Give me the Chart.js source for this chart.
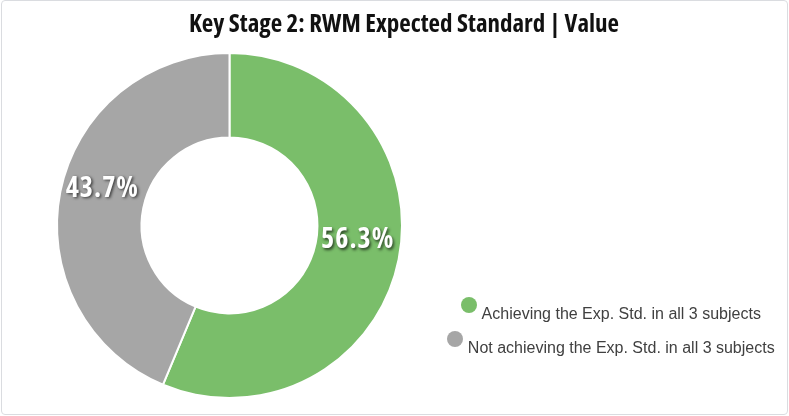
<!DOCTYPE html>
<html><head><meta charset="utf-8">
<script src="https://cdn.jsdelivr.net/npm/chart.js@4/dist/chart.umd.min.js"></script>
<style>
html,body{margin:0;padding:0;background:#fff;}
#wrap{position:relative;width:789px;height:416px;overflow:hidden;}
#c{position:absolute;left:0;top:0;}
#frame{position:absolute;left:1px;top:0;width:787px;height:415px;box-sizing:border-box;border:1px solid #dadce0;border-radius:4px;pointer-events:none;}
#legend{position:absolute;left:411px;top:297px;width:400px;font-family:'Liberation Sans',Arial,sans-serif;font-size:16px;color:#404040;}
.item{display:flex;justify-content:center;align-items:flex-start;height:34px;}
.dot{width:16px;height:16px;border-radius:50%;flex:none;margin-right:4.5px;}
.txt{line-height:16px;margin-top:9px;white-space:nowrap;}
</style></head>
<body><div id="wrap"><canvas id="c" width="789" height="416"></canvas><div id="legend"></div><div id="frame"></div></div>
<script>
const titleText = "Key Stage 2: RWM Expected Standard | Value";
const categories = ["Achieving the Exp. Std. in all 3 subjects", "Not achieving the Exp. Std. in all 3 subjects"];
const values = [56.3, 43.7];
const colors = ["#7abe6a", "#a6a6a6"];

const legendEl = document.getElementById('legend');
categories.forEach((c, i) => {
  const it = document.createElement('div'); it.className = 'item';
  const d = document.createElement('span'); d.className = 'dot'; d.style.background = colors[i];
  const t = document.createElement('span'); t.className = 'txt'; t.textContent = c;
  it.appendChild(d); it.appendChild(t); legendEl.appendChild(it);
});

const titlePlugin = {
  id: 'customTitle',
  afterDraw(chart) {
    const ctx = chart.ctx;
    ctx.save();
    ctx.font = "bold 25px 'Open Sans'";
    try { ctx.fontStretch = 'condensed'; } catch (e) {}
    ctx.fillStyle = '#111111';
    ctx.textAlign = 'center';
    ctx.textBaseline = 'alphabetic';
    ctx.fillText(titleText, 404, 32);
    ctx.restore();
  }
};

const labelPlugin = {
  id: 'sliceLabels',
  afterDatasetsDraw(chart) {
    const ctx = chart.ctx;
    const meta = chart.getDatasetMeta(0);
    const data = chart.data.datasets[0].data;
    ctx.save();
    ctx.font = "bold 28px 'Open Sans'";
    try { ctx.fontStretch = 'semi-condensed'; } catch (e) {}
    try { ctx.letterSpacing = '1px'; } catch (e) {}
    ctx.textAlign = 'center';
    ctx.textBaseline = 'alphabetic';
    ctx.fillStyle = '#ffffff';
    ctx.shadowColor = 'rgba(0,0,0,0.65)';
    ctx.shadowBlur = 3;
    ctx.shadowOffsetX = 1.5;
    ctx.shadowOffsetY = 1.5;
    meta.data.forEach((arc, i) => {
      const p = arc.tooltipPosition();
      ctx.fillText(data[i].toFixed(1) + '%', p.x + 0.5, p.y - 3);
    });
    ctx.restore();
  }
};

new Chart(document.getElementById('c'), {
  type: 'doughnut',
  data: {
    labels: categories,
    datasets: [{
      data: values,
      backgroundColor: colors,
      borderColor: '#ffffff',
      borderWidth: 2,
      hoverOffset: 0
    }]
  },
  options: {
    responsive: false,
    animation: false,
    cutout: '51%',
    layout: { padding: { left: 56, right: 386, top: 52, bottom: 17 } },
    plugins: {
      legend: { display: false },
      title: { display: false },
      tooltip: { enabled: false }
    }
  },
  plugins: [titlePlugin, labelPlugin]
});
</script>
</body></html>
